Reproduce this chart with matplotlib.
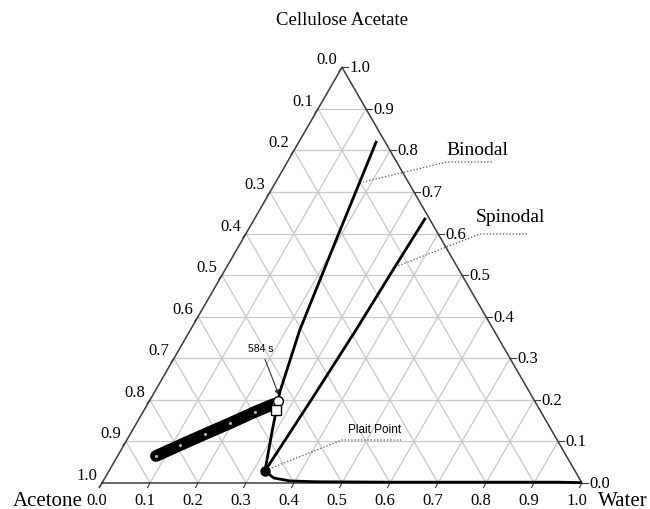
import numpy as np
import matplotlib
matplotlib.use('Agg')
import matplotlib.pyplot as plt

# ternary compositions (water fraction, cellulose acetate fraction)
binodal_water = [0.325, 0.292, 0.261, 0.228, 0.194, 0.161]
binodal_ca = [0.029, 0.125, 0.219, 0.368, 0.594, 0.820]

spinodal_water = [0.325, 0.336, 0.345, 0.350, 0.355]
spinodal_ca = [0.029, 0.200, 0.368, 0.512, 0.635]

# water-rich branch of the binodal running along the base
branch_water = [0.325, 0.352, 0.389, 0.445, 0.600, 0.800, 0.950, 0.995]
branch_ca = [0.029, 0.012, 0.005, 0.003, 0.002, 0.002, 0.002, 0.001]

# composition path of the casting film (dense time steps)
path_water = [0.080, 0.117, 0.156, 0.195, 0.233, 0.263]
path_ca = [0.065, 0.091, 0.118, 0.144, 0.171, 0.190]

end_circle = (0.268, 0.197)   # 584 s
end_square = (0.275, 0.176)
plait_point = (0.325, 0.029)

tick_vals = [round(0.1 * i, 1) for i in range(11)]

H = np.sqrt(3) / 2
PX = 1 / 480.0  # one pixel in data units


def tern(w, c):
    w = np.asarray(w, dtype=float)
    c = np.asarray(c, dtype=float)
    return w + c / 2, c * H


fig = plt.figure(figsize=(6.5, 5.09), dpi=100)
ax = fig.add_axes([0, 0, 1, 1])
ax.set_xlim(-102 * PX, 548 * PX)
ax.set_ylim(-26 * PX, 483 * PX)
ax.axis('off')

serif = 'Liberation Serif'
sans = 'Liberation Sans'
grid_col = '#c8c8c8'

# grid
for v in tick_vals[1:-1]:
    x, y = tern([0, 1 - v], [v, v])
    ax.plot(x, y, color=grid_col, lw=0.9, zorder=1)
    x, y = tern([v, v], [0, 1 - v])
    ax.plot(x, y, color=grid_col, lw=0.9, zorder=1)
    x, y = tern([1 - v, 0], [0, 1 - v])
    ax.plot(x, y, color=grid_col, lw=0.9, zorder=1)

# triangle frame
x, y = tern([0, 1, 0, 0], [0, 0, 1, 0])
ax.plot(x, y, color='#3a3a3a', lw=1.1, zorder=2)

# ticks and labels
for v in tick_vals:
    # bottom axis: water
    bx, by = tern(v, 0)
    ax.plot([bx, bx - 2.5 * PX], [by, by - 4.5 * PX], color='#3a3a3a', lw=0.8)
    ax.text(bx - 5 * PX, by - 18 * PX, f'{v:.1f}', ha='center', va='center',
            family=serif, fontsize=12)
    # right axis: cellulose acetate
    rx, ry = tern(1 - v, v)
    ax.plot([rx, rx + 6 * PX], [ry, ry], color='#3a3a3a', lw=0.8)
    ax.text(rx + 7 * PX, ry - 1 * PX, f'{v:.1f}', ha='left', va='center',
            family=serif, fontsize=12)
    # left axis: acetone
    lx, ly = tern(0, 1 - v)
    ax.plot([lx, lx - 3 * PX], [ly, ly - 4 * PX], color='#3a3a3a', lw=0.8)
    ax.text(lx - 5 * PX, ly + 7 * PX, f'{v:.1f}', ha='right', va='center',
            family=serif, fontsize=12)

ax.text(0.5, 463 * PX, 'Cellulose Acetate', ha='center', va='center',
        family=serif, fontsize=13.5)
ax.text(-19 * PX, -18 * PX, 'Acetone', ha='right', va='center', family=serif, fontsize=15)
ax.text(496 * PX, -18 * PX, 'Water', ha='left', va='center', family=serif, fontsize=15)

# curves
x, y = tern(binodal_water, binodal_ca)
ax.plot(x, y, color='black', lw=2, zorder=4)
x, y = tern(spinodal_water, spinodal_ca)
ax.plot(x, y, color='black', lw=2, zorder=4)
x, y = tern(branch_water, branch_ca)
ax.plot(x, y, color='black', lw=2, zorder=4)

# film composition path
x, y = tern(path_water, path_ca)
ax.plot(x, y, color='black', lw=8.5, solid_capstyle='round', zorder=5)
ax.plot(x, y, linestyle='none', marker='o', ms=1.2, color='#bbbbbb', zorder=6)

cx, cy = tern(*end_circle)
ax.plot(cx, cy, marker='o', ms=7, mfc='white', mec='black', mew=1, zorder=7)
sx, sy = tern(*end_square)
ax.plot(sx, sy, marker='s', ms=7.5, mfc='white', mec='black', mew=1, zorder=7)
px_, py_ = tern(*plait_point)
ax.plot(px_, py_, marker='o', ms=6.5, color='black', zorder=7)

# annotations
ax.annotate('584 s', xy=(cx + 1 * PX, cy + 6 * PX), xytext=(159 * PX, 134 * PX),
            ha='center', va='center', family=sans, fontsize=7.5,
            arrowprops=dict(arrowstyle='-|>', color='#333333', lw=0.8,
                            mutation_scale=7, shrinkA=2, shrinkB=0))

dot = dict(color='#555555', lw=0.9, linestyle=(0, (1, 1.6)), zorder=3)

bx, by = tern(0.176, 0.722)
ax.plot([bx, 345 * PX, 391 * PX], [by, 321 * PX, 321 * PX], **dot)
ax.text(375 * PX, 333 * PX, 'Binodal', ha='center', va='center', family=serif, fontsize=14)

sx2, sy2 = tern(0.351, 0.520)
ax.plot([sx2, 378 * PX, 426 * PX], [sy2, 249 * PX, 249 * PX], **dot)
ax.text(408 * PX, 265 * PX, 'Spinodal', ha='center', va='center', family=serif, fontsize=14)

ax.plot([px_ + 4 * PX, 240 * PX, 300 * PX], [py_ + 2 * PX, 43 * PX, 43 * PX], **dot)
ax.text(273 * PX, 53 * PX, 'Plait Point', ha='center', va='center', family=sans, fontsize=8.5)

fig.savefig('out.png', dpi=100)
